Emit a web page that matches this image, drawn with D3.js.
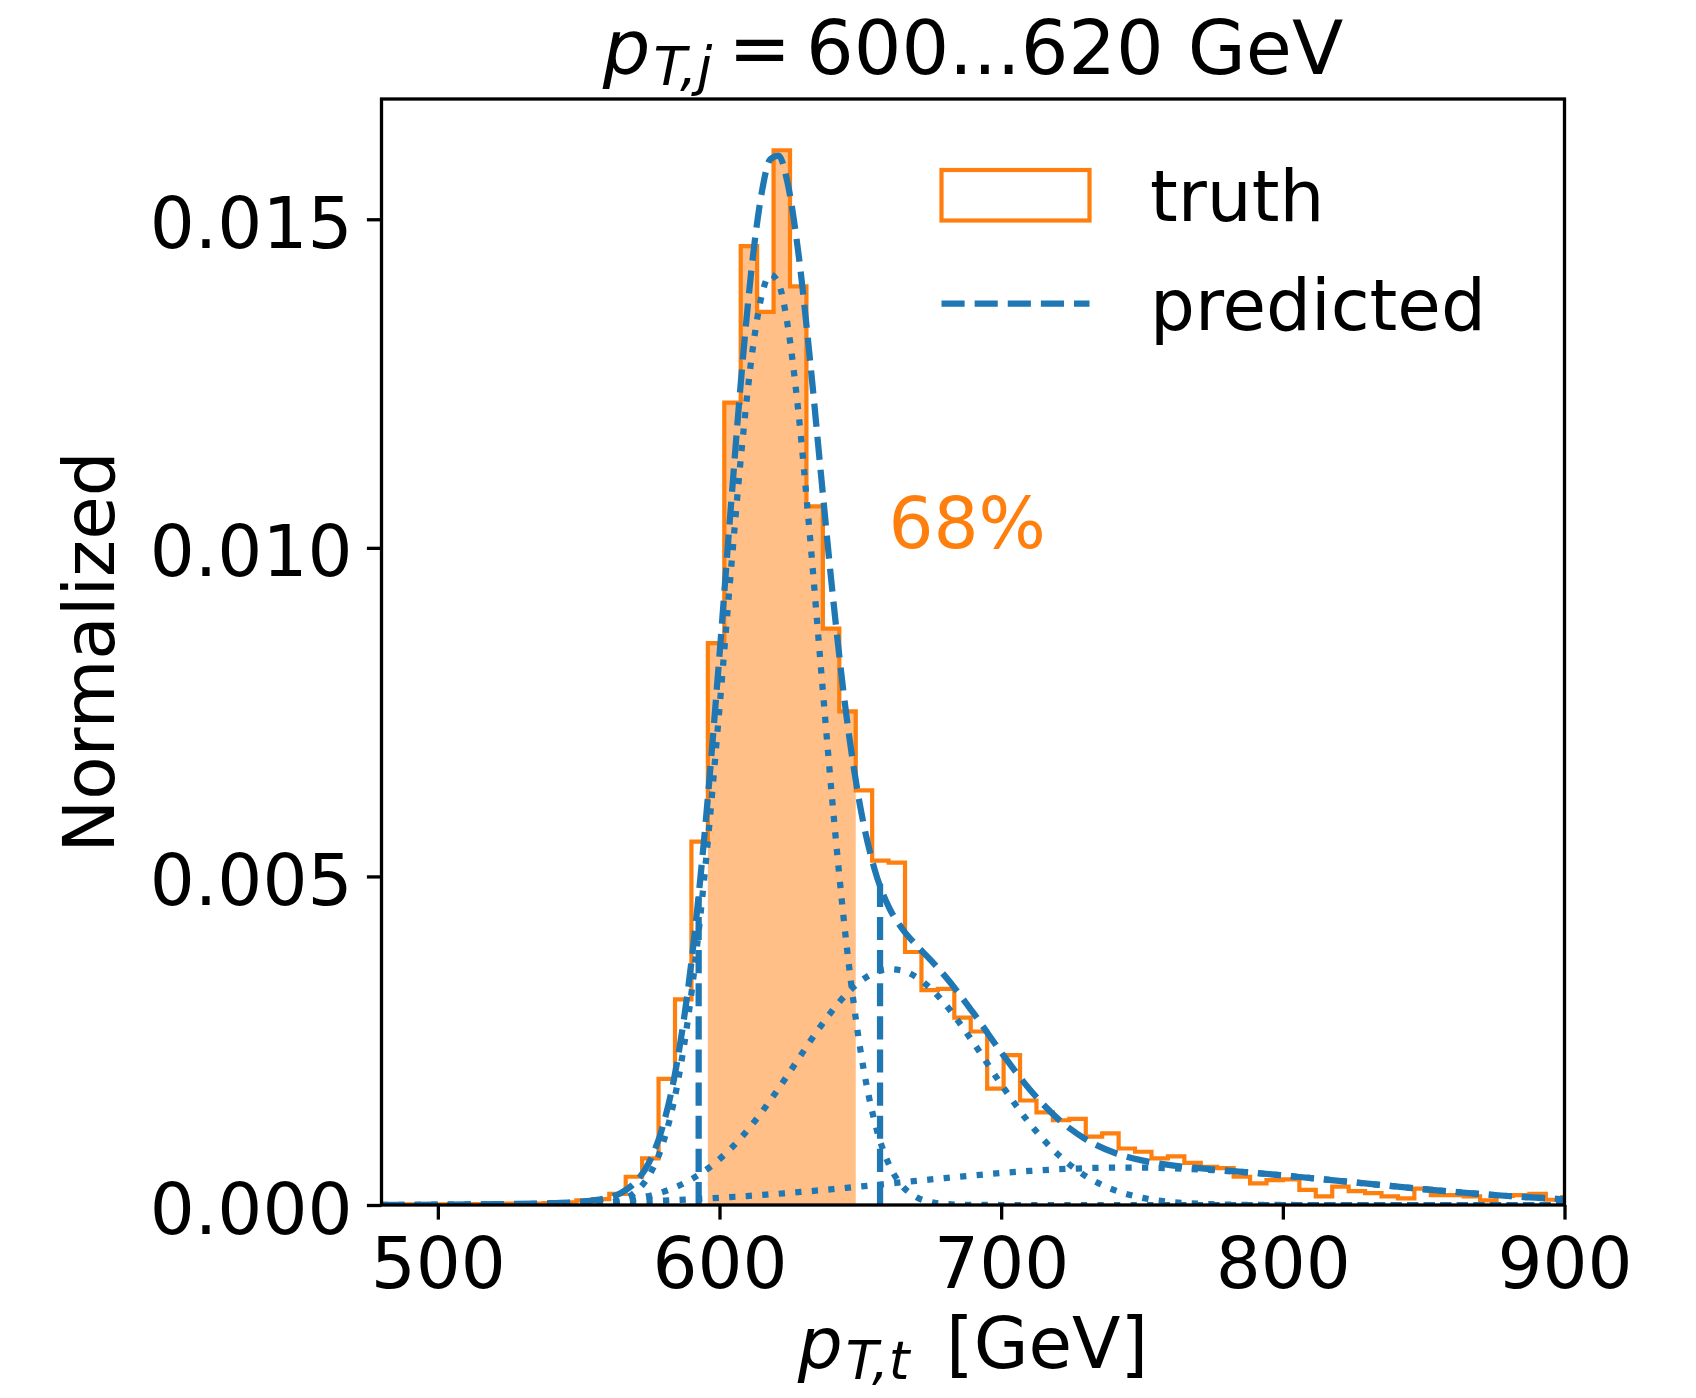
<!DOCTYPE html>
<html>
<head>
<meta charset="utf-8">
<script src="https://cdn.jsdelivr.net/npm/d3@7"></script>
<style>
  html, body { margin: 0; padding: 0; background: #fff; }
  svg { display: block; font-family: "DejaVu Sans", sans-serif; }
</style>
</head>
<body>
<div id="chart"></div>
<script>
//
// pT,t histogram vs predicted density for the 600...620 GeV jet slice
//

// ---- truth histogram (normalized) ----
const binLow = 479.2;
const binWidth = 35 / 6;
const truthHeights = [
  0.000005, 0.00001, 0.000005, 0.00001, 0.00001, 0.000015, 0.00001, 0.00002, 0.00002, 0.00002,
  0.00003, 0.00004, 0.00007, 0.00009, 0.00017, 0.00043, 0.00071, 0.00192, 0.00313, 0.00553,
  0.00855, 0.01221, 0.01459, 0.01359, 0.01605, 0.01398, 0.01063, 0.00877, 0.00751, 0.00631,
  0.00524, 0.00521, 0.00385, 0.00327, 0.00329, 0.00285, 0.00264, 0.00177, 0.00228, 0.00159,
  0.00141, 0.00129, 0.00131, 0.00104, 0.00109, 0.00086, 0.00081, 0.00071, 0.00074, 0.00064,
  0.00058, 0.00056, 0.00043, 0.00033, 0.00038, 0.00039, 0.00023, 0.00013, 0.00028, 0.00021,
  0.00018, 0.00013, 0.0001, 0.00025, 0.00015, 0.00015, 0.00013, 0.00007, 0.00014, 0.00015,
  0.00017, 0.00008, 0.00012
];
// bins inside the 68% band (first, last)
const bandBins = [20, 28];

// ---- predicted density, sampled along pT ----
const predX = [
  480, 500, 520, 540, 550, 560, 565, 570, 575, 580, 585, 590, 595, 600, 604, 608, 612,
  615, 618, 621, 624, 628, 632, 636, 640, 645, 650, 655, 660, 665, 670, 675, 680, 690,
  700, 710, 720, 730, 740, 750, 760, 775, 790, 805, 820, 840, 860, 880, 900
];
const predTotal = [
  0.000002, 0.000005, 0.000012, 0.000027, 0.000048, 0.000107, 0.000184, 0.000341, 0.000648,
  0.001216, 0.002185, 0.003689, 0.005783, 0.008372, 0.010604, 0.01273, 0.014484, 0.015407,
  0.015912, 0.015969, 0.015587, 0.014489, 0.012918, 0.011131, 0.009369, 0.007468, 0.006054,
  0.005117, 0.004544, 0.004196, 0.003948, 0.003726, 0.003487, 0.00293, 0.002324, 0.001766,
  0.001318, 0.001001, 0.000799, 0.000679, 0.000608, 0.000543, 0.000489, 0.00043, 0.000367,
  0.000282, 0.000203, 0.000137, 0.000087
];
const predCore = [
  0, 0, 0, 0, 0.000003, 0.000028, 0.000077, 0.000195, 0.00045, 0.000948, 0.001826, 0.003212,
  0.005158, 0.007564, 0.009624, 0.011556, 0.013093, 0.013841, 0.01416, 0.014023, 0.01344,
  0.012071, 0.010229, 0.00818, 0.006172, 0.004, 0.002368, 0.00128, 0.000632, 0.000285,
  0.000117, 0.000044, 0.000015, 0.000001,
  0, 0, 0, 0, 0, 0, 0, 0, 0, 0, 0, 0, 0, 0, 0
];
const predShoulder = [
  0, 0, 0.000001, 0.000006, 0.000016, 0.00004, 0.000062, 0.000094, 0.000138, 0.0002,
  0.000282, 0.00039, 0.000527, 0.000698, 0.000859, 0.001042, 0.001248, 0.001414, 0.00159,
  0.001775, 0.001965, 0.002222, 0.002479, 0.002726, 0.002956, 0.003207, 0.003404, 0.003534,
  0.003588, 0.003565, 0.003464, 0.003293, 0.003062, 0.002479, 0.001837, 0.001248, 0.000775,
  0.000441, 0.00023, 0.00011, 0.000048, 0.000012, 0.000002, 0, 0, 0, 0, 0, 0
];
const predTail = [
  0.000002, 0.000005, 0.000011, 0.000021, 0.000029, 0.000039, 0.000045, 0.000052, 0.00006,
  0.000068, 0.000077, 0.000087, 0.000098, 0.00011, 0.000121, 0.000132, 0.000143, 0.000152,
  0.000162, 0.000171, 0.000182, 0.000196, 0.00021, 0.000225, 0.000241, 0.000261, 0.000282,
  0.000303, 0.000324, 0.000346, 0.000367, 0.000389, 0.00041, 0.00045, 0.000487, 0.000518,
  0.000543, 0.00056, 0.000569, 0.000569, 0.00056, 0.000531, 0.000487, 0.00043, 0.000367,
  0.000282, 0.000203, 0.000137, 0.000087
];

// predicted 68% interval edges and the density there
const intervalX = [592.6, 657.0];
const intervalTop = [0.0047, 0.0049];

// ---- axes ----
const xTicks = [500, 600, 700, 800, 900];
const yTicks = [0, 0.005, 0.010, 0.015];

// ----------------------------------------
// LAYOUT
// ----------------------------------------
const W = 1696, H = 1398;
const plot = { left: 381.5, right: 1564.5, top: 99, bottom: 1205 };
const FS = 70.8;
const ORANGE = "#ff7f0e", BLUE = "#1f77b4";
const LW = 6.25;

const svg = d3.select("#chart").append("svg")
  .attr("width", W).attr("height", H)
  .attr("viewBox", `0 0 ${W} ${H}`);

const x = d3.scaleLinear().domain([480, 900]).range([plot.left, plot.right]);
const y = d3.scaleLinear().domain([0, 0.01683]).range([plot.bottom, plot.top]);

svg.append("defs").append("clipPath").attr("id", "plotClip")
  .append("rect")
  .attr("x", plot.left).attr("y", plot.top)
  .attr("width", plot.right - plot.left)
  .attr("height", plot.bottom - plot.top);

const g = svg.append("g").attr("clip-path", "url(#plotClip)");

// ----------------------------------------
// HISTOGRAM
// ----------------------------------------
const edge = i => binLow + i * binWidth;

function stepPoints(from, to) {
  const pts = [[edge(from), 0]];
  for (let i = from; i <= to; i++) {
    pts.push([edge(i), truthHeights[i]]);
    pts.push([edge(i + 1), truthHeights[i]]);
  }
  pts.push([edge(to + 1), 0]);
  return pts;
}

const line = d3.line().x(d => x(d[0])).y(d => y(d[1]));

// 68% band, filled
g.append("path")
  .attr("d", line(stepPoints(bandBins[0], bandBins[1])) + "Z")
  .attr("fill", ORANGE)
  .attr("fill-opacity", 0.5)
  .attr("stroke", "none");

// outline
g.append("path")
  .attr("d", line(stepPoints(0, truthHeights.length - 1)))
  .attr("fill", "none")
  .attr("stroke", ORANGE)
  .attr("stroke-width", 4.2)
  .attr("stroke-linejoin", "miter");

// ----------------------------------------
// PREDICTION
// ----------------------------------------
const curve = d3.line()
  .x((d, i) => x(predX[i]))
  .y(d => y(d))
  .curve(d3.curveMonotoneX);

const dashed = `${LW * 3.7},${LW * 1.6}`;
const dotted = `${LW},${LW * 1.65}`;

// interval edges
intervalX.forEach((v, i) => {
  g.append("line")
    .attr("x1", x(v)).attr("x2", x(v))
    .attr("y1", y(0)).attr("y2", y(intervalTop[i]))
    .attr("stroke", BLUE)
    .attr("stroke-width", LW)
    .attr("stroke-dasharray", dashed);
});

g.append("path")
  .attr("d", curve(predTotal))
  .attr("fill", "none")
  .attr("stroke", BLUE)
  .attr("stroke-width", LW)
  .attr("stroke-dasharray", dashed);

[predCore, predShoulder, predTail].forEach(series => {
  g.append("path")
    .attr("d", curve(series))
    .attr("fill", "none")
    .attr("stroke", BLUE)
    .attr("stroke-width", LW)
    .attr("stroke-dasharray", dotted);
});

// band label
svg.append("text")
  .attr("x", x(660)).attr("y", y(0.010))
  .attr("font-size", FS)
  .attr("fill", ORANGE)
  .text("68%");

// ----------------------------------------
// AXES
// ----------------------------------------
const TICK = 14.6, SPINE = 3.3;

const xAxis = svg.append("g")
  .attr("transform", `translate(0,${plot.bottom})`)
  .call(d3.axisBottom(x).tickValues(xTicks).tickSize(TICK).tickSizeOuter(0)
    .tickFormat(d3.format("d")));

const yAxis = svg.append("g")
  .attr("transform", `translate(${plot.left},0)`)
  .call(d3.axisLeft(y).tickValues(yTicks).tickSize(TICK).tickSizeOuter(0)
    .tickFormat(d3.format(".3f")));

[xAxis, yAxis].forEach(a => {
  a.select(".domain").remove();
  a.selectAll(".tick line").attr("stroke", "#000").attr("stroke-width", SPINE);
  a.selectAll(".tick text")
    .attr("font-family", "DejaVu Sans")
    .attr("font-size", FS)
    .attr("fill", "#000");
});
xAxis.selectAll(".tick text").attr("y", 83).attr("dy", null);
yAxis.selectAll(".tick text").attr("x", -29).attr("dy", 28);

// spines
svg.append("rect")
  .attr("x", plot.left).attr("y", plot.top)
  .attr("width", plot.right - plot.left)
  .attr("height", plot.bottom - plot.top)
  .attr("fill", "none")
  .attr("stroke", "#000")
  .attr("stroke-width", SPINE);

// ----------------------------------------
// LABELS
// ----------------------------------------
function mathLabel(sel, size, sub, rest, gap) {
  sel.append("tspan").attr("font-style", "italic").text("p");
  sel.append("tspan").attr("font-style", "italic")
    .attr("font-size", size * 0.72).attr("dx", 3).attr("dy", 11).text(sub);
  sel.append("tspan").attr("dx", gap).attr("dy", -11).text(rest);
}

const TITLE_FS = 75;
const title = svg.append("text")
  .attr("x", (plot.left + plot.right) / 2).attr("y", 74)
  .attr("text-anchor", "middle")
  .attr("font-size", TITLE_FS);
mathLabel(title, TITLE_FS, "T,j", "=\u2009600...620 GeV", 16);

const xLabel = svg.append("text")
  .attr("x", (plot.left + plot.right) / 2).attr("y", 1368)
  .attr("text-anchor", "middle")
  .attr("font-size", FS);
mathLabel(xLabel, FS * 1.04, "T,t", " [GeV]", 14);

svg.append("text")
  .attr("transform", `translate(114,${(plot.top + plot.bottom) / 2}) rotate(-90)`)
  .attr("text-anchor", "middle")
  .attr("font-size", FS)
  .text("Normalized");

// ----------------------------------------
// LEGEND
// ----------------------------------------
const legend = svg.append("g");
legend.append("rect")
  .attr("x", 941.5).attr("y", 170)
  .attr("width", 148).attr("height", 50.5)
  .attr("fill", "none")
  .attr("stroke", ORANGE)
  .attr("stroke-width", 4.2);
legend.append("line")
  .attr("x1", 941.5).attr("x2", 1089.5)
  .attr("y1", 303.5).attr("y2", 303.5)
  .attr("stroke", BLUE)
  .attr("stroke-width", LW)
  .attr("stroke-dasharray", dashed);
legend.append("text")
  .attr("x", 1150).attr("y", 221)
  .attr("font-size", FS)
  .text("truth");
legend.append("text")
  .attr("x", 1150).attr("y", 330)
  .attr("font-size", FS)
  .text("predicted");
</script>
</body>
</html>
